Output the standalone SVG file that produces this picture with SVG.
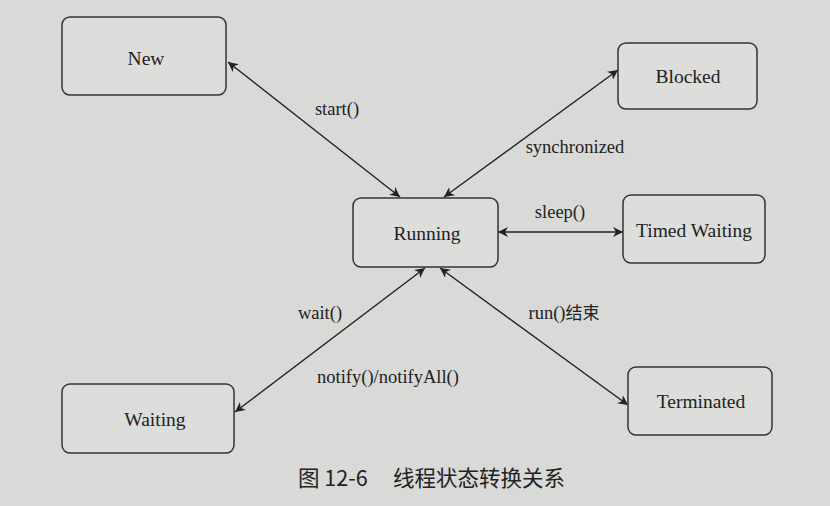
<svg xmlns="http://www.w3.org/2000/svg" width="830" height="506" viewBox="0 0 830 506">
<defs>
<marker id="ah" viewBox="0 0 10 10" refX="10" refY="5" markerWidth="10" markerHeight="10" markerUnits="userSpaceOnUse" orient="auto-start-reverse">
<path d="M0,0 L10,5 L0,10 L3,5 z" fill="#222"/>
</marker>
<style>
.box{fill:#dddddb;stroke:#333;stroke-width:1.5}
.nl{font-size:19.5px;fill:#222;text-anchor:middle;dominant-baseline:central}
.el{font-size:18.5px;fill:#222;text-anchor:middle}
.ln{stroke:#222;stroke-width:1.4;fill:none;marker-start:url(#ah);marker-end:url(#ah)}
</style>
</defs>
<rect x="0" y="0" width="830" height="506" fill="#d9d9d7"/>
<g id="connectors" font-family="Liberation Serif, DejaVu Serif, serif">
<line class="ln" x1="400" y1="197" x2="228" y2="62"/>
<line class="ln" x1="444" y1="197" x2="618" y2="70"/>
<line class="ln" x1="498" y1="232" x2="623" y2="232"/>
<line class="ln" x1="425" y1="268" x2="235" y2="412"/>
<line class="ln" x1="440" y1="268" x2="628" y2="405"/>
<text class="el" x="337" y="115">start()</text>
<text class="el" x="575" y="153">synchronized</text>
<text class="el" x="560" y="218">sleep()</text>
<text class="el" x="320" y="319">wait()</text>
<text class="el" x="388" y="383">notify()/notifyAll()</text>
<text class="el" x="564" y="319">run()<tspan font-family="Noto Sans CJK SC, sans-serif" font-size="17">结束</tspan></text>
</g>
<g font-family="Liberation Serif, DejaVu Serif, serif">
<g id="new"><rect class="box" x="62" y="17" width="164" height="78" rx="8"/><text class="nl" x="146" y="58">New</text></g>
<g id="running"><rect class="box" x="353" y="198" width="145" height="69" rx="8"/><text class="nl" x="427" y="233">Running</text></g>
<g id="blocked"><rect class="box" x="618" y="43" width="139" height="66" rx="8"/><text class="nl" x="688" y="76">Blocked</text></g>
<g id="timed"><rect class="box" x="623" y="195" width="142" height="68" rx="8"/><text class="nl" x="694" y="230">Timed Waiting</text></g>
<g id="waiting"><rect class="box" x="62" y="384" width="172" height="69" rx="8"/><text class="nl" x="155" y="419">Waiting</text></g>
<g id="terminated"><rect class="box" x="628" y="367" width="144" height="68" rx="8"/><text class="nl" x="701" y="401">Terminated</text></g>
</g>
<text x="298" y="486" font-family="Noto Sans CJK SC, sans-serif" font-size="21.5" fill="#222">图 12-6<tspan x="393">线程状态转换关系</tspan></text>
</svg>
